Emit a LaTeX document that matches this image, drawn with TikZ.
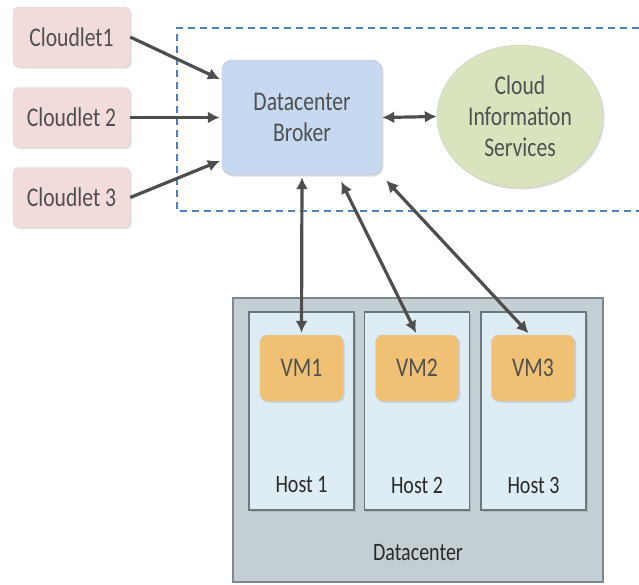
\documentclass[tikz,border=0pt]{standalone}
\usepackage{fontspec}
\setmainfont{Carlito}[FakeStretch=0.8]
\usetikzlibrary{arrows.meta,shapes.geometric,shadows}

\definecolor{txtgray}{HTML}{505050}
\definecolor{txtdark}{HTML}{2A2A2A}
\definecolor{cletfill}{HTML}{F2DCDB}
\definecolor{brokerfill}{HTML}{C6D9F1}
\definecolor{cisfill}{HTML}{D7E4BD}
\definecolor{dcfill}{HTML}{C4CFD3}
\definecolor{dcline}{HTML}{7F8A8E}
\definecolor{hostfill}{HTML}{DDEDF3}
\definecolor{hostline}{HTML}{6B777B}
\definecolor{vmfill}{HTML}{F0C175}
\definecolor{arrowgray}{HTML}{4E4E4E}
\definecolor{dashblue}{HTML}{4F81BD}

\begin{document}
\begin{tikzpicture}[x=1pt, y=-1pt,
		every node/.style={text=txtgray, font=\fontsize{27}{31}\selectfont, align=center},
		softshadow/.style={drop shadow={opacity=0.25, shadow xshift=1.5pt, shadow yshift=-1.5pt}},
		cloudlet/.style={rectangle, rounded corners=5pt, draw=white!85!black, fill=cletfill, softshadow, minimum width=117pt, minimum height=60pt, inner sep=0pt},
		broker/.style={rectangle, rounded corners=10pt, draw=white!75!black, fill=brokerfill, softshadow, minimum width=160pt, minimum height=115pt, inner sep=0pt},
		cis/.style={ellipse, draw=white!80!black, fill=cisfill, softshadow, minimum width=166pt, minimum height=143pt, inner sep=0pt},
		datacenter/.style={rectangle, draw=dcline, line width=1.2pt, fill=dcfill, minimum width=370pt, minimum height=284pt},
		host/.style={rectangle, draw=hostline, line width=1.8pt, fill=hostfill, softshadow, minimum width=105pt, minimum height=198pt},
		vm/.style={rectangle, rounded corners=7pt, draw=white!80!black, fill=vmfill, softshadow, minimum width=83pt, minimum height=66pt, inner sep=0pt},
		darklabel/.style={text=txtdark, font=\fontsize{25}{30}\selectfont},
		link/.style={draw=arrowgray, line width=3.2pt, -{Latex[length=12pt,width=12pt]}},
		duplex/.style={link, {Latex[length=12pt,width=12pt]}-{Latex[length=12pt,width=12pt]}}]
		\useasboundingbox (0,0) rectangle (639,584);

		% cloudlets and the broker side
		\draw[dashblue, line width=1.5pt, dash pattern=on 7pt off 5pt] (639,28) -- (177,28) -- (177,211) -- (639,211);
		\draw
		(71.5,37) node [cloudlet] (C1) {Cloudlet1}
		(71.5,117.5) node [cloudlet] (C2) {Cloudlet 2}
		(71.5,197.5) node [cloudlet] (C3) {Cloudlet 3}
		(302,117.5) node [broker] (DB) {Datacenter\\Broker}
		(520,116.5) node [cis] (CIS) {Cloud\\Information\\Services};

		% datacenter with hosts
		\draw
		(418,440) node [datacenter] (DC) {}
		(418,553) node [darklabel] (DClabel) {Datacenter}
		(301.5,411) node [host] (H1) {}
		(417,411) node [host] (H2) {}
		(533.5,411) node [host] (H3) {}
		(301.5,485) node [darklabel] (H1label) {Host 1}
		(417,485) node [darklabel] (H2label) {Host 2}
		(533.5,485) node [darklabel] (H3label) {Host 3}
		(301.5,368) node [vm] (VM1) {VM1}
		(417,368) node [vm] (VM2) {VM2}
		(533,368) node [vm] (VM3) {VM3};

		\draw[link, shorten >=2pt] (C1.east) -- (DB.155);
		\draw[link, shorten >=2pt] (C2.east) -- (DB.west);
		\draw[link, shorten >=2pt] (C3.east) -- (DB.208);
		\draw[duplex] (DB.east) -- (CIS.west);
		\draw[duplex, shorten <=2pt, shorten >=2pt] (DB.south) -- (VM1.north);
		\draw[duplex, shorten <=7pt, shorten >=2pt] (DB.-58) -- (VM2.north);
		\draw[duplex, shorten <=7pt, shorten >=2pt] (DB.-36) -- ([xshift=-3pt]VM3.north);
	\end{tikzpicture}
\end{document}
